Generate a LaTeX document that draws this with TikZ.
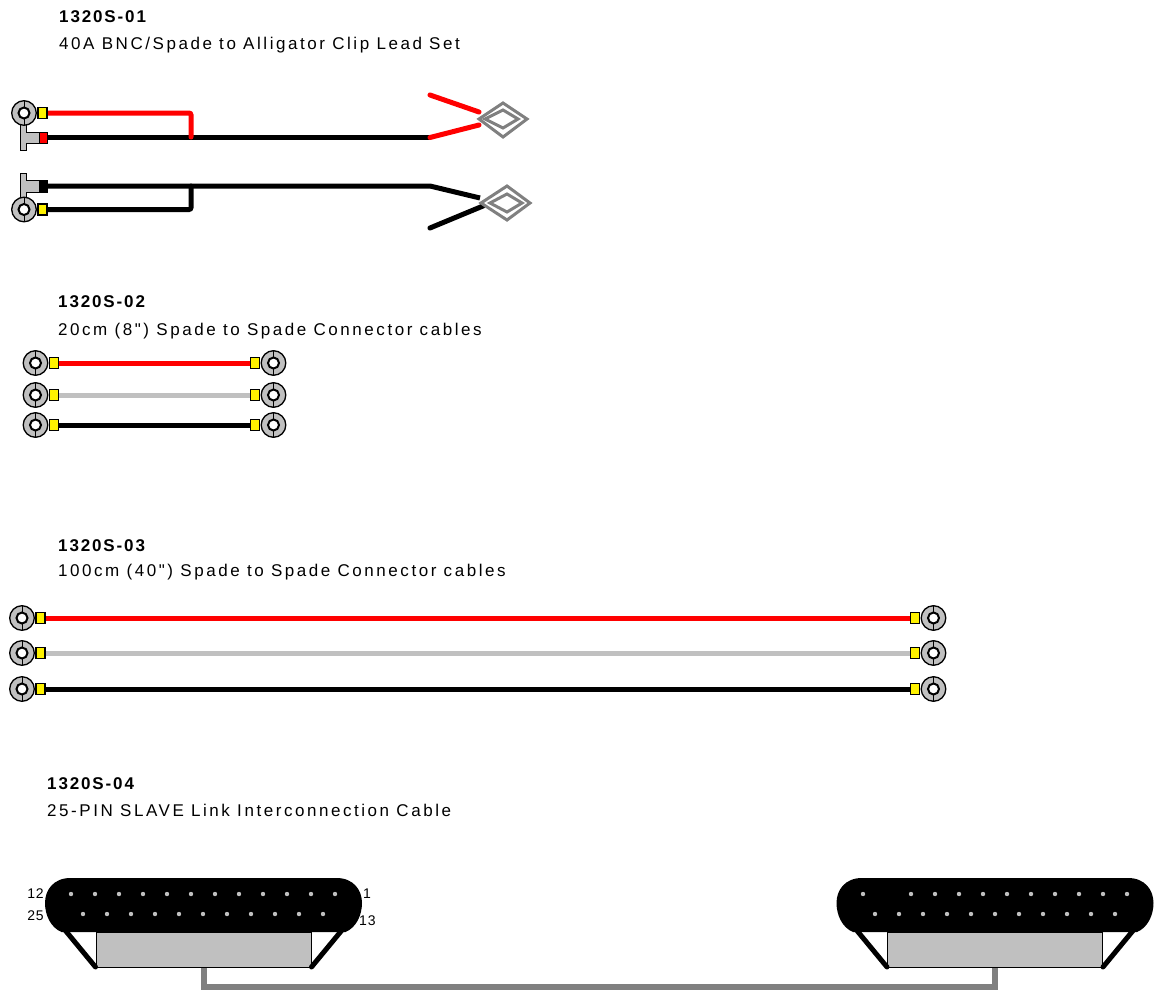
\documentclass[tikz,border=0pt]{standalone}
\usepackage{fontspec}
\setmainfont{Liberation Sans}
\newfontfamily\labfont{Liberation Sans}[LetterSpace=15]
\newfontfamily\titfont{Liberation Sans}[LetterSpace=11]
\newfontfamily\pinfont{Liberation Sans}[LetterSpace=6]
\definecolor{lugGray}{HTML}{C0C0C0}
\definecolor{clipGray}{HTML}{808080}
\definecolor{wireRed}{HTML}{FF0000}
\definecolor{wireGray}{HTML}{C0C0C0}
\begin{document}
\begin{tikzpicture}[x=1pt,y=-1pt,
  title/.style={anchor=base west, inner sep=0pt, font={\titfont\fontsize{17}{20}\selectfont\bfseries}},
  subtitle/.style={anchor=base west, inner sep=0pt, font={\labfont\fontsize{17}{20}\selectfont}},
  pinlabel/.style={inner sep=0pt, font={\pinfont\fontsize{14}{16}\selectfont}},
  wire/.style={line width=5pt},
  redwire/.style={wire, draw=wireRed},
  graywire/.style={wire, draw=wireGray},
  blackwire/.style={wire, draw=black},
  clipshape/.style={draw=clipGray, line width=3pt, line join=miter},
  tshape/.style={fill=lugGray, draw=black, line width=1pt},
  pindot/.style={fill=lugGray},
  linkcable/.style={draw=clipGray, line width=6pt},
  lug/.pic={
    \filldraw[fill=yellow, draw=black, line width=1.2pt] (14pt,-5.5pt) rectangle (23pt,5.5pt);
    \filldraw[fill=lugGray, draw=black, line width=1.3pt] (0,0) circle[radius=12.3pt];
    \draw[line width=1pt] (0,5pt)--(0,12.3pt) (0,-5pt)--(0,-12.3pt);
    \filldraw[fill=white, draw=black, line width=2pt] (0,0) circle[radius=5.5pt];
  },
  dbshell/.pic={
    \fill[black] (-133,0) -- (133,0) .. controls (150,0) and (158.5,12) .. (158.5,25)
      .. controls (158.5,38) and (152,50) .. (142,54) -- (-142,54)
      .. controls (-152,50) and (-158.5,38) .. (-158.5,25)
      .. controls (-158.5,12) and (-150,0) .. (-133,0) -- cycle;
    \filldraw[fill=lugGray, draw=black, line width=1pt] (-107.5,54) rectangle (107.5,89);
    \draw[line width=5pt, line cap=round] (-141,49) -- (-108,89);
    \draw[line width=5pt, line cap=round] (141,49) -- (108,89);
  }
]
\useasboundingbox (0,0) rectangle (1154,990);

% ---------------- 1320S-01 ----------------
\node[title] (t1) at (59,23) {1320S-01};
\node[subtitle] (s1) at (59,49) {40A BNC/Spade to Alligator Clip Lead Set};

\coordinate (a1) at (47,113);
\coordinate (a1b) at (191,137);
\coordinate (b1) at (47,137.5);
\coordinate (b1k) at (430,137.5);
\coordinate (c1top) at (430,95);
\coordinate (c1tip) at (479,112);
\coordinate (c1bot) at (479,125);
\coordinate (b2) at (47,186);
\coordinate (b2k) at (430,186);
\coordinate (c2top) at (480,198);
\coordinate (c2low) at (430,228);
\coordinate (c2bot) at (483,206);
\coordinate (a2) at (47,209.5);
\coordinate (a2b) at (191,186);

% black wires
\draw[blackwire, line join=round] (b1) -- (b1k);
\draw[blackwire, line join=round] (b2) -- (b2k) -- (c2top);
\draw[blackwire, line cap=round] (c2low) -- (c2bot);
\draw[blackwire, rounded corners=2pt, line cap=round] (a2) -| (a2b);
% red wires
\draw[redwire, rounded corners=2pt, line cap=round] (a1) -| (a1b);
\draw[redwire, line cap=round] (b1k) -- (c1bot);
\draw[redwire, line cap=round] (c1top) -- (c1tip);

% alligator clips
\draw[clipshape] (479,119) -- (503,103) -- (527,119) -- (503,137) -- cycle;
\draw[clipshape] (485,119) -- (503,110) -- (518,119) -- (503,128) -- cycle;
\draw[clipshape] (481,203) -- (507,186) -- (530,203) -- (507,220) -- cycle;
\draw[clipshape] (490,203) -- (507,194) -- (522,203) -- (507,212) -- cycle;

% T-shaped BNC tabs
\filldraw[tshape] (20,124) -- (26,124) -- (26,132.5) -- (39,132.5) -- (39,143.5) -- (26,143.5) -- (26,150) -- (20,150) -- cycle;
\filldraw[fill=wireRed, draw=black, line width=1pt] (39,132.5) rectangle (47,143.5);
\filldraw[tshape] (20,173) -- (26,173) -- (26,180) -- (39,180) -- (39,192) -- (26,192) -- (26,198) -- (20,198) -- cycle;
\filldraw[fill=black, draw=black, line width=1pt] (39,180) rectangle (47,192);

\pic at (24,113) {lug};
\pic at (24,209.5) {lug};

% ---------------- 1320S-02 ----------------
\node[title] (t2) at (58,307) {1320S-02};
\node[subtitle] (s2) at (58,335) {20cm (8") Spade to Spade Connector cables};

\coordinate (p2a) at (59,363);   \coordinate (q2a) at (251,363);
\coordinate (p2b) at (59,395);   \coordinate (q2b) at (251,395);
\coordinate (p2c) at (59,425);   \coordinate (q2c) at (251,425);
\draw[redwire] (p2a) -- (q2a);
\draw[graywire] (p2b) -- (q2b);
\draw[blackwire] (p2c) -- (q2c);
\foreach \yy in {363,395,425}{
  \pic at (35.5,\yy) {lug};
  \pic[xscale=-1] at (273.5,\yy) {lug};
}

% ---------------- 1320S-03 ----------------
\node[title] (t3) at (58,551) {1320S-03};
\node[subtitle] (s3) at (58,576) {100cm (40") Spade to Spade Connector cables};

\coordinate (p3a) at (46,618);   \coordinate (q3a) at (911,618);
\coordinate (p3b) at (46,653);   \coordinate (q3b) at (911,653);
\coordinate (p3c) at (46,689);   \coordinate (q3c) at (911,689);
\draw[redwire] (p3a) -- (q3a);
\draw[graywire] (p3b) -- (q3b);
\draw[blackwire] (p3c) -- (q3c);
\foreach \yy in {618,653,689}{
  \pic at (22,\yy) {lug};
  \pic[xscale=-1] at (933.5,\yy) {lug};
}

% ---------------- 1320S-04 ----------------
\node[title] (t4) at (47,789) {1320S-04};
\node[subtitle] (s4) at (47,816) {25-PIN SLAVE Link Interconnection Cable};

\coordinate (dL) at (203.5,967);
\coordinate (dR) at (995,967);
\draw[linkcable] (dL) -- (203.5,986.5) -- (995,986.5) -- (dR);

\pic at (203.5,878) {dbshell};
\pic at (995,878) {dbshell};

\foreach \i in {0,...,11}{ \fill[pindot] (71+24*\i,894) circle[radius=2.2pt]; }
\foreach \i in {0,...,10}{ \fill[pindot] (83+24*\i,914) circle[radius=2.2pt]; }
\foreach \i in {0,2,3,4,5,6,7,8,9,10,11}{ \fill[pindot] (863+24*\i,894) circle[radius=2.2pt]; }
\foreach \i in {0,...,10}{ \fill[pindot] (875+24*\i,914) circle[radius=2.2pt]; }

\node[pinlabel, anchor=east] (n12) at (44,894) {12};
\node[pinlabel, anchor=east] (n25) at (44,916) {25};
\node[pinlabel, anchor=west] (n1) at (363,894) {1};
\node[pinlabel, anchor=west] (n13) at (359,921) {13};

\end{tikzpicture}
\end{document}
